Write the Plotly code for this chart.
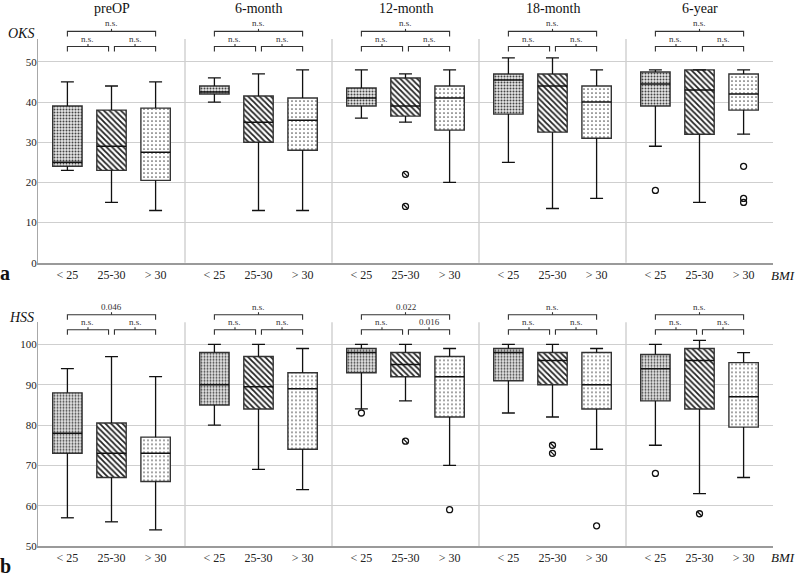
import plotly.graph_objects as go

# ---------------- data ----------------
timepoints = ["preOP", "6-month", "12-month", "18-month", "6-year"]
bmi_groups = ["< 25", "25-30", "> 30"]

# OKS: [lower whisker, q1, median, q3, upper whisker] per timepoint per BMI group
oks_lt25 = [[23, 24, 25, 39, 45], [40, 42, 42.5, 44, 46], [36, 39, 41, 43.5, 48], [25, 37, 45.5, 47, 51], [29, 39, 44.5, 47.5, 48]]
oks_25_30 = [[15, 23, 29, 38, 44], [13, 30, 35, 41.5, 47], [35, 36.5, 39, 46, 47], [13.5, 32.5, 44, 47, 51], [15, 32, 43, 48, 48]]
oks_gt30 = [[13, 20.5, 27.5, 38.5, 45], [13, 28, 35.5, 41, 48], [20, 33, 41, 44, 48], [16, 31, 40, 44, 48], [32, 38, 42, 47, 48]]
oks_outliers_lt25 = [[], [], [], [], [18]]
oks_outliers_25_30 = [[], [], [22, 14], [], []]
oks_outliers_gt30 = [[], [], [], [], [24, 16, 15]]
oks_sig = [["n.s.", "n.s.", "n.s."]] * 5  # [outer, left, right]

# HSS
hss_lt25 = [[57, 73, 78, 88, 94], [80, 85, 90, 98, 100], [84, 93, 98, 99, 100], [83, 91, 98, 99, 100], [75, 86, 94, 97.5, 100]]
hss_25_30 = [[56, 67, 73, 80.5, 97], [69, 84, 89.5, 97, 100], [86, 92, 95, 98, 100], [82, 90, 96, 98, 100], [63, 84, 96, 99, 101]]
hss_gt30 = [[54, 66, 73, 77, 92], [64, 74, 89, 93, 99], [70, 82, 92, 97, 99], [74, 84, 90, 98, 99], [67, 79.5, 87, 95.5, 98]]
hss_outliers_lt25 = [[], [], [83], [], [68]]
hss_outliers_25_30 = [[], [], [76], [75, 73], [58]]
hss_outliers_gt30 = [[], [], [59], [55], []]
hss_sig = [["0.046", "n.s.", "n.s."], ["n.s.", "n.s.", "n.s."], ["0.022", "n.s.", "0.016"],
           ["n.s.", "n.s.", "n.s."], ["n.s.", "n.s.", "n.s."]]

y_tick_top = [0, 10, 20, 30, 40, 50]
y_tick_bot = [50, 60, 70, 80, 90, 100]

# ---------------- styling ----------------
FONT = "Liberation Serif, Times New Roman, DejaVu Serif, serif"
patterns = [
    dict(shape=".", size=3, solidity=0.35, fgcolor="#444", bgcolor="#e6e6e6", fillmode="replace"),
    dict(shape="\\", size=4, solidity=0.45, fgcolor="#222", bgcolor="#ffffff", fillmode="replace"),
    dict(shape=".", size=4, solidity=0.14, fgcolor="#555", bgcolor="#ffffff", fillmode="replace"),
]

W, H = 799, 578
ML, MR, MT, MB = 38, 26, 39, 32
plot_h = H - MT - MB
top_dom = [(H - MB - 262.7) / plot_h, 1.0]
bot_dom = [0.0, (H - MB - 322.3) / plot_h]


def ppy(pix):
    return (H - MB - pix) / plot_h


def ppx(pix):
    return (pix - ML) / (W - ML - MR)


def xpos(g, i):
    return 5 * g + 1 + 1.5 * i


fig = go.Figure()
shapes = []
annotations = []

panels = [
    ("x", "y", [oks_lt25, oks_25_30, oks_gt30], [oks_outliers_lt25, oks_outliers_25_30, oks_outliers_gt30], oks_sig),
    ("x2", "y2", [hss_lt25, hss_25_30, hss_gt30], [hss_outliers_lt25, hss_outliers_25_30, hss_outliers_gt30], hss_sig),
]

CAP = 0.22
for xa, ya, stats_list, outl_list, sig in panels:
    # boxes as patterned bars
    for i, stats in enumerate(stats_list):
        xs = [xpos(g, i) for g in range(5)]
        fig.add_trace(go.Bar(
            x=xs, y=[s[3] - s[1] for s in stats], base=[s[1] for s in stats], width=1,
            marker=dict(color=patterns[i]["bgcolor"], pattern=patterns[i],
                        line=dict(color="#333", width=1.4)),
            xaxis=xa, yaxis=ya, showlegend=False, hoverinfo="skip"))
    # whiskers, caps, medians
    wx, wy, mx, my = [], [], [], []
    for i, stats in enumerate(stats_list):
        for g, s in enumerate(stats):
            x = xpos(g, i)
            lo, q1, med, q3, hi = s
            wx += [x, x, None, x, x, None, x - CAP, x + CAP, None, x - CAP, x + CAP, None]
            wy += [lo, q1, None, q3, hi, None, lo, lo, None, hi, hi, None]
            mx += [x - 0.5, x + 0.5, None]
            my += [med, med, None]
    fig.add_trace(go.Scatter(x=wx, y=wy, mode="lines", line=dict(color="#111", width=1.3),
                             xaxis=xa, yaxis=ya, showlegend=False, hoverinfo="skip"))
    fig.add_trace(go.Scatter(x=mx, y=my, mode="lines", line=dict(color="#111", width=1.5),
                             xaxis=xa, yaxis=ya, showlegend=False, hoverinfo="skip"))
    # outliers
    for i, outl in enumerate(outl_list):
        ox, oy = [], []
        for g, vals in enumerate(outl):
            for v in vals:
                ox.append(xpos(g, i))
                oy.append(v)
        if ox:
            fig.add_trace(go.Scatter(x=ox, y=oy, mode="markers",
                                     marker=dict(symbol="circle-open", size=6, color="#111",
                                                 line=dict(width=1.3, color="#111")),
                                     xaxis=xa, yaxis=ya, showlegend=False, hoverinfo="skip", cliponaxis=False))
            if i == 1:
                fig.add_trace(go.Scatter(x=ox, y=oy, mode="markers",
                                         marker=dict(symbol="line-nw", size=5, color="#111",
                                                     line=dict(width=1.2, color="#111")),
                                         xaxis=xa, yaxis=ya, showlegend=False, hoverinfo="skip", cliponaxis=False))
    # group separators
    yd = ya + " domain"
    for g in range(1, 5):
        shapes.append(dict(type="line", xref=xa, yref=yd, x0=5 * g, x1=5 * g, y0=0, y1=1,
                           line=dict(color="#d2d2d2", width=1.5), layer="below"))
    # significance brackets
    tick = 5 / 223.5
    y_out = 1 + 7.6 / 223.5
    y_in = 1 - 7.5 / 223.5
    for g in range(5):
        spans = [(xpos(g, 0), xpos(g, 2), y_out, sig[g][0]),
                 (xpos(g, 0), 5 * g + 2.4, y_in, sig[g][1]),
                 (5 * g + 2.6, xpos(g, 2), y_in, sig[g][2])]
        for x0, x1, yy, txt in spans:
            shapes.append(dict(type="path", xref=xa, yref=yd,
                               path=f"M {x0} {yy - tick} L {x0} {yy} L {x1} {yy} L {x1} {yy - tick}",
                               line=dict(color="#333", width=1.1)))
            xm = (x0 + x1) / 2
            shapes.append(dict(type="line", xref=xa, yref=yd, x0=xm, x1=xm, y0=yy, y1=yy + 2.5 / 223.5,
                               line=dict(color="#333", width=1.1)))
            annotations.append(dict(text=txt, xref=xa, yref=yd, x=xm, y=yy + 1.0 / 223.5,
                                    xanchor="center", yanchor="bottom", showarrow=False,
                                    font=dict(family=FONT, size=9, color="#333333")))

# column titles
for g, t in enumerate(timepoints):
    annotations.append(dict(text=t, xref="x", yref="paper", x=5 * g + 2.5, y=ppy(9),
                            xanchor="center", yanchor="middle",
                            showarrow=False, font=dict(family=FONT, size=14, color="#111")))

# axis titles and panel letters
side_labels = [
    ("<i>OKS</i>", 21, 34, 14),
    ("<i>HSS</i>", 21, 318, 14),
    ("<i>BMI</i>", 783, 275, 13),
    ("<i>BMI</i>", 783, 557, 13),
    ("<b>a</b>", 5, 273, 20),
    ("<b>b</b>", 5, 566, 20),
]
for txt, px, py, fs in side_labels:
    annotations.append(dict(text=txt, xref="paper", yref="paper", x=ppx(px), y=ppy(py),
                            xanchor="center", yanchor="middle", showarrow=False,
                            font=dict(family=FONT, size=fs, color="#111")))

tickvals = [xpos(g, i) for g in range(5) for i in range(3)]
ticktext = [bmi_groups[i] for g in range(5) for i in range(3)]

xcommon = dict(range=[0, 25], tickvals=tickvals, ticktext=ticktext, showgrid=False, zeroline=False,
               showline=True, linecolor="#9a9a9a", linewidth=2, ticks="", ticklabelstandoff=0,
               tickfont=dict(family=FONT, size=12, color="#222"))
ycommon = dict(showgrid=True, gridcolor="#cfcfcf", gridwidth=1.3, zeroline=False, showline=True,
               linecolor="#a8a8a8", linewidth=1, ticks="", ticklabelstandoff=-2,
               tickfont=dict(family=FONT, size=11, color="#222"))

fig.update_layout(
    width=W, height=H, margin=dict(l=ML, r=MR, t=MT, b=MB),
    paper_bgcolor="white", plot_bgcolor="white",
    font=dict(family=FONT),
    barmode="overlay", showlegend=False,
    xaxis=dict(domain=[0, 1], anchor="y", **xcommon),
    yaxis=dict(domain=top_dom, anchor="x", range=[0, 55.7], tickvals=y_tick_top, **ycommon),
    xaxis2=dict(domain=[0, 1], anchor="y2", **xcommon),
    yaxis2=dict(domain=bot_dom, anchor="x2", range=[50, 105.5], tickvals=y_tick_bot, **ycommon),
    shapes=shapes, annotations=annotations,
)

fig.write_html("out.html", config={"displayModeBar": False},
               post_script="document.body.style.margin='0px';")
